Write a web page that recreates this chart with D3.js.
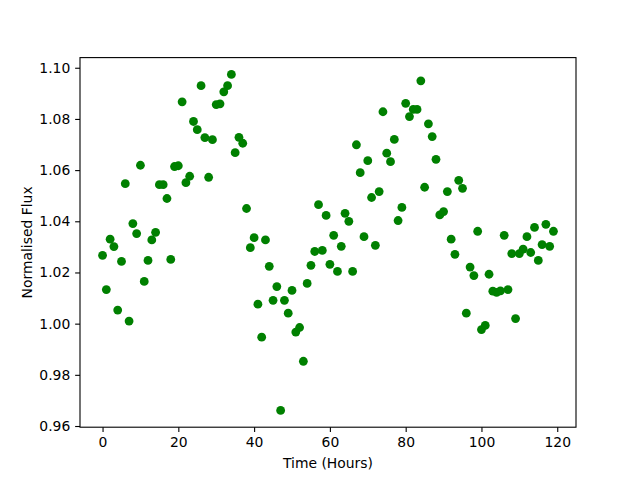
<!DOCTYPE html>
<html>
<head>
<meta charset="utf-8">
<script src="https://cdn.jsdelivr.net/npm/d3@7"></script>
<style>
  html, body { margin: 0; padding: 0; background: #fff; }
  svg { display: block; }
  text { font-family: "DejaVu Sans", sans-serif; }
</style>
</head>
<body>
<svg id="chart" width="640" height="480"></svg>
<script>
// Data
const hours = d3.range(0, 120);
const flux = [
  1.0267, 1.0133, 1.0330, 1.0301, 1.0053, 1.0243, 1.0547, 1.0010, 1.0391, 1.0352,
  1.0619, 1.0165, 1.0247, 1.0327, 1.0357, 1.0543, 1.0543, 1.0489, 1.0251, 1.0614,
  1.0617, 1.0867, 1.0551, 1.0576, 1.0790, 1.0758, 1.0930, 1.0727, 1.0572, 1.0719,
  1.0856, 1.0859, 1.0906, 1.0930, 1.0974, 1.0668, 1.0728, 1.0705, 1.0450, 1.0297,
  1.0336, 1.0076, 0.9947, 1.0327, 1.0224, 1.0091, 1.0145, 0.9661, 1.0091, 1.0041,
  1.0130, 0.9967, 0.9985, 0.9853, 1.0157, 1.0228, 1.0282, 1.0465, 1.0286, 1.0423,
  1.0232, 1.0345, 1.0204, 1.0302, 1.0431, 1.0400, 1.0204, 1.0699, 1.0590, 1.0340,
  1.0637, 1.0493, 1.0306, 1.0516, 1.0828, 1.0666, 1.0633, 1.0720, 1.0403, 1.0454,
  1.0861, 1.0809, 1.0837, 1.0837, 1.0949, 1.0533, 1.0781, 1.0731, 1.0642, 1.0425,
  1.0438, 1.0516, 1.0330, 1.0271, 1.0560, 1.0529, 1.0041, 1.0221, 1.0188, 1.0361,
  0.9977, 0.9993, 1.0193, 1.0127, 1.0122, 1.0128, 1.0345, 1.0133, 1.0274, 1.0020,
  1.0274, 1.0291, 1.0340, 1.0278, 1.0376, 1.0247, 1.0309, 1.0388, 1.0302, 1.0361
];
const xTicks = [0, 20, 40, 60, 80, 100, 120];
const yTicks = [0.96, 0.98, 1.00, 1.02, 1.04, 1.06, 1.08, 1.10];
const xLabel = "Time (Hours)";
const yLabel = "Normalised Flux";

// Layout (matplotlib defaults)
const plotLeft = 80, plotRight = 576, plotTop = 57.6, plotBottom = 427.2;

const svg = d3.select("#chart");

const xMin = d3.min(hours), xMax = d3.max(hours);
const xPad = (xMax - xMin) * 0.05;
const x = d3.scaleLinear().domain([xMin - xPad, xMax + xPad]).range([plotLeft, plotRight]);

const yMin = d3.min(flux), yMax = d3.max(flux);
const yPad = (yMax - yMin) * 0.05;
const y = d3.scaleLinear().domain([yMin - yPad, yMax + yPad]).range([plotBottom, plotTop]);

// Points
svg.append("g")
  .selectAll("circle")
  .data(hours.map((h, i) => ({ h, f: flux[i] })))
  .join("circle")
  .attr("cx", d => x(d.h))
  .attr("cy", d => y(d.f))
  .attr("r", 4.4)
  .attr("fill", "#008000");

// Frame
svg.append("rect")
  .attr("x", plotLeft).attr("y", plotTop)
  .attr("width", plotRight - plotLeft).attr("height", plotBottom - plotTop)
  .attr("fill", "none").attr("stroke", "#000").attr("stroke-width", 1.1);

// Axes
const tickLen = 4.86, tickPad = 4.86;
const xAxis = svg.append("g")
  .attr("transform", `translate(0,${plotBottom})`)
  .call(d3.axisBottom(x).tickValues(xTicks).tickFormat(d3.format("d"))
        .tickSize(tickLen).tickPadding(tickPad).tickSizeOuter(0));
xAxis.select(".domain").remove();
xAxis.selectAll(".tick line").attr("stroke", "#000").attr("stroke-width", 1.1);
xAxis.selectAll(".tick text").attr("font-size", "13.9px").attr("fill", "#000")
  .attr("font-family", "DejaVu Sans, sans-serif");

const yAxis = svg.append("g")
  .attr("transform", `translate(${plotLeft},0)`)
  .call(d3.axisLeft(y).tickValues(yTicks).tickFormat(d3.format(".2f"))
        .tickSize(tickLen).tickPadding(tickPad).tickSizeOuter(0));
yAxis.select(".domain").remove();
yAxis.selectAll(".tick line").attr("stroke", "#000").attr("stroke-width", 1.1);
yAxis.selectAll(".tick text").attr("font-size", "13.9px").attr("fill", "#000")
  .attr("font-family", "DejaVu Sans, sans-serif");

// Axis labels
svg.append("text")
  .attr("x", (plotLeft + plotRight) / 2).attr("y", 468)
  .attr("text-anchor", "middle").attr("font-size", "13.9px").attr("fill", "#000")
  .text(xLabel);

svg.append("text")
  .attr("transform", `translate(32,${(plotTop + plotBottom) / 2}) rotate(-90)`)
  .attr("text-anchor", "middle").attr("font-size", "13.9px").attr("fill", "#000")
  .text(yLabel);
</script>
</body>
</html>
